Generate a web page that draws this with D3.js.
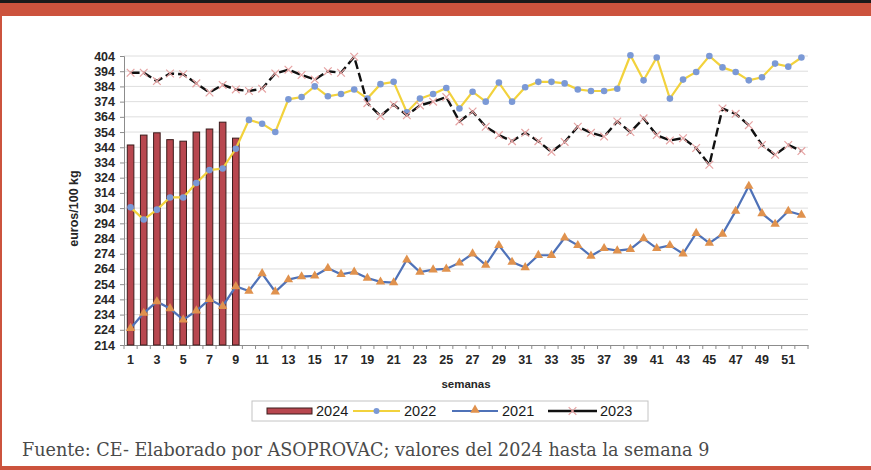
<!DOCTYPE html>
<html>
<head>
<meta charset="utf-8">
<script src="https://cdn.jsdelivr.net/npm/d3@7"></script>
<style>
  body { margin: 0; background: #fff; }
  svg { display: block; }
</style>
</head>
<body>
<svg width="871" height="470"></svg>
<script>
// semanas 1..52
let weeks = d3.range(1, 53);

let v2024 = [345.5, 352, 353.5, 349, 348, 354, 356, 360.5, 350];

let v2022 = [304.5, 296.5, 303, 311, 311, 320.5, 329, 330, 343, 362, 359.5, 354, 375.5, 377, 384, 377.5,
  379, 382, 376, 385.5, 387, 367, 376, 379, 383, 369.5, 380.5, 374, 386.5, 374, 383.5, 387, 387, 386,
  382, 381, 381, 382.5, 404.5, 388, 403, 376, 388.5, 393.5, 404, 396.5, 393.5, 388, 390, 399, 397, 403];

let v2021 = [225, 235, 242.5, 238, 230.5, 236.5, 244, 239.5, 252.5, 249.5, 261, 249, 257, 259, 259.5, 264.5,
  260.5, 262, 258, 255.5, 255, 270, 262, 263.5, 264, 268, 274, 266.5, 279.5, 268.5, 265, 273, 273, 284.5,
  279.5, 272.5, 277.5, 276, 277, 284, 277.5, 279.5, 274, 287.5, 281, 287, 302, 318.5, 300.5, 293.5, 302, 299.5];

let v2023 = [393, 393, 387.5, 392.5, 392, 386, 380, 385, 382, 381, 382.5, 392.5, 395, 391.5, 388.5, 394,
  393, 403.5, 373, 364.5, 372, 365, 371.5, 374, 377, 361, 367.5, 357.5, 352, 348, 353.5, 348, 341, 347.5,
  357.5, 353.5, 351, 361, 354, 363, 352, 348.5, 350, 343.5, 332.5, 369.5, 366, 358.5, 345.5, 339, 345.5, 341.5];

let yTicks = d3.range(214, 405, 10);
let xLabels = weeks.filter(function(w) { return w % 2 === 1; });

let svg = d3.select("svg"),
    margin = {top: 56, right: 63, bottom: 125, left: 124},
    width = +svg.attr("width") - margin.left - margin.right,
    height = +svg.attr("height") - margin.top - margin.bottom;

// page frame
svg.append("rect").attr("x", 0).attr("y", 0).attr("width", 871).attr("height", 3).attr("fill", "#1a1a1a");
svg.append("rect").attr("x", 0).attr("y", 3).attr("width", 871).attr("height", 13).attr("fill", "#cc533d");
svg.append("rect").attr("x", 0).attr("y", 16).attr("width", 2).attr("height", 454).attr("fill", "#cc533d");
svg.append("rect").attr("x", 0).attr("y", 466).attr("width", 871).attr("height", 4).attr("fill", "#cc533d");

let g = svg.append("g").attr("transform", "translate(" + margin.left + "," + margin.top + ")");

let x = d3.scaleBand().domain(weeks).range([0, width]);
let y = d3.scaleLinear().domain([214, 404]).range([height, 0]);
let cx = function(w) { return x(w) + x.bandwidth() / 2; };

// grid
g.append("g").selectAll("line").data(yTicks.slice(1)).enter().append("line")
    .attr("x1", 0).attr("x2", width)
    .attr("y1", function(d) { return y(d); }).attr("y2", function(d) { return y(d); })
    .attr("stroke", "#dedede").attr("stroke-width", 1);

// y axis
let yAxis = d3.axisLeft(y).tickValues(yTicks).tickSize(4).tickPadding(5);
let yGroup = g.append("g").call(yAxis);
yGroup.select(".domain").attr("stroke", "#8c8c8c");
yGroup.selectAll(".tick line").attr("stroke", "#8c8c8c");
yGroup.selectAll("text").attr("font-family", "Liberation Sans, Arial, sans-serif")
    .attr("font-size", 12.5).attr("font-weight", "bold").attr("fill", "#262626");

// x axis
let xAxis = d3.axisBottom(x).tickValues(xLabels).tickSize(0).tickPadding(10);
let xGroup = g.append("g").attr("transform", "translate(0," + height + ")").call(xAxis);
xGroup.select(".domain").attr("stroke", "#8c8c8c");
xGroup.selectAll("text").attr("font-family", "Liberation Sans, Arial, sans-serif")
    .attr("font-size", 12.5).attr("font-weight", "bold").attr("fill", "#262626");
xGroup.append("g").selectAll("line").data(weeks.concat([null])).enter().append("line")
    .attr("x1", function(d) { return d === null ? width : x(d); })
    .attr("x2", function(d) { return d === null ? width : x(d); })
    .attr("y1", 0).attr("y2", 4).attr("stroke", "#8c8c8c");

// bars 2024
let barW = x.bandwidth() * 0.5;
g.append("g").selectAll("rect").data(v2024).enter().append("rect")
    .attr("x", function(d, i) { return cx(weeks[i]) - barW / 2; })
    .attr("y", function(d) { return y(d); })
    .attr("width", barW)
    .attr("height", function(d) { return height - y(d); })
    .attr("fill", "#b8474f").attr("stroke", "#3b1c1c").attr("stroke-width", 1);

let line = d3.line().x(function(d, i) { return cx(weeks[i]); }).y(function(d) { return y(d); });

// 2021
g.append("path").datum(v2021).attr("d", line).attr("fill", "none")
    .attr("stroke", "#4f72b8").attr("stroke-width", 2.2);
let tri = d3.symbol().type(d3.symbolTriangle).size(38);
g.append("g").selectAll("path").data(v2021).enter().append("path")
    .attr("d", tri)
    .attr("transform", function(d, i) { return "translate(" + cx(weeks[i]) + "," + y(d) + ")"; })
    .attr("fill", "#e0924e");

// 2022
g.append("path").datum(v2022).attr("d", line).attr("fill", "none")
    .attr("stroke", "#f2d23c").attr("stroke-width", 2.2);
g.append("g").selectAll("circle").data(v2022).enter().append("circle")
    .attr("cx", function(d, i) { return cx(weeks[i]); })
    .attr("cy", function(d) { return y(d); })
    .attr("r", 3.3).attr("fill", "#7b99d6");

// 2023
g.append("path").datum(v2023).attr("d", line).attr("fill", "none")
    .attr("stroke", "#111").attr("stroke-width", 2.4).attr("stroke-dasharray", "9,4");
let cross = d3.symbol().type(d3.symbolX).size(40);
g.append("g").selectAll("path").data(v2023).enter().append("path")
    .attr("d", cross)
    .attr("transform", function(d, i) { return "translate(" + cx(weeks[i]) + "," + y(d) + ")"; })
    .attr("fill", "none").attr("stroke", "#e6a3a3").attr("stroke-width", 1.2);

// axis titles
svg.append("text")
    .attr("transform", "translate(78," + (margin.top + height / 2 + 8) + ") rotate(-90)")
    .attr("text-anchor", "middle")
    .attr("font-family", "Liberation Sans, Arial, sans-serif").attr("font-size", 12.5)
    .attr("font-weight", "bold").attr("fill", "#262626")
    .text("euros/100 kg");

svg.append("text")
    .attr("x", margin.left + width / 2).attr("y", 388)
    .attr("text-anchor", "middle")
    .attr("font-family", "Liberation Sans, Arial, sans-serif").attr("font-size", 11.5)
    .attr("font-weight", "bold").attr("fill", "#262626")
    .text("semanas");

// legend
let lg = svg.append("g").attr("transform", "translate(252,401)");
lg.append("rect").attr("width", 396).attr("height", 20).attr("fill", "#fff").attr("stroke", "#c4c4c4");
let items = [
  {name: "2024", x: 15},
  {name: "2022", x: 101},
  {name: "2021", x: 200},
  {name: "2023", x: 296}
];
lg.append("rect").attr("x", items[0].x).attr("y", 7).attr("width", 45).attr("height", 6)
    .attr("fill", "#b8474f").attr("stroke", "#3b1c1c");
lg.append("line").attr("x1", items[1].x).attr("x2", items[1].x + 47).attr("y1", 10).attr("y2", 10)
    .attr("stroke", "#f2d23c").attr("stroke-width", 2);
lg.append("circle").attr("cx", items[1].x + 23.5).attr("cy", 10).attr("r", 3).attr("fill", "#7b99d6");
lg.append("line").attr("x1", items[2].x).attr("x2", items[2].x + 46).attr("y1", 10).attr("y2", 10)
    .attr("stroke", "#4f72b8").attr("stroke-width", 2);
lg.append("path").attr("d", tri).attr("transform", "translate(" + (items[2].x + 23) + ",9)").attr("fill", "#e0924e");
lg.append("line").attr("x1", items[3].x).attr("x2", items[3].x + 49).attr("y1", 10).attr("y2", 10)
    .attr("stroke", "#111").attr("stroke-width", 2.4);
lg.append("path").attr("d", cross).attr("transform", "translate(" + (items[3].x + 24.5) + ",10)")
    .attr("fill", "none").attr("stroke", "#e6a3a3").attr("stroke-width", 1.2);
lg.selectAll("text.lab").data(items).enter().append("text").attr("class", "lab")
    .attr("x", function(d, i) { return d.x + [49, 51, 50, 52][i]; })
    .attr("y", 15)
    .attr("font-family", "Liberation Sans, Arial, sans-serif").attr("font-size", 14.5)
    .attr("fill", "#1a1a1a")
    .text(function(d) { return d.name; });

// source note
svg.append("text")
    .attr("x", 22).attr("y", 456)
    .attr("font-family", "DejaVu Serif, serif").attr("font-size", 17.6)
    .attr("fill", "#4a4a4a")
    .text("Fuente: CE- Elaborado por ASOPROVAC; valores del 2024 hasta la semana 9");
</script>
</body>
</html>
